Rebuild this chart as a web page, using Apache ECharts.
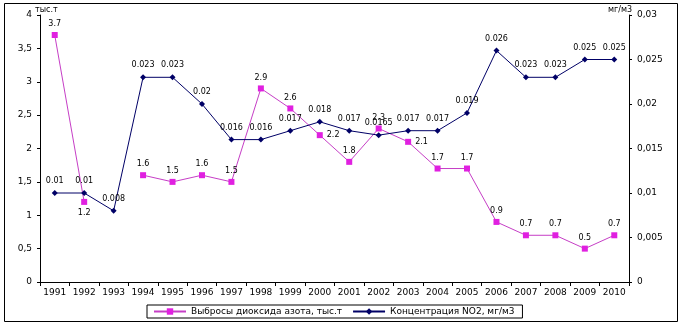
<!DOCTYPE html>
<html><head><meta charset="utf-8">
<script src="https://cdn.jsdelivr.net/npm/echarts@6/dist/echarts.min.js"></script>
<style>html,body{margin:0;padding:0;background:#fff}#c{width:684px;height:326px}</style>
</head><body><div id="c"></div>
<script>
const years = ['1991','1992','1993','1994','1995','1996','1997','1998','1999','2000','2001','2002','2003','2004','2005','2006','2007','2008','2009','2010'];
const emissions = [3.7,1.2,null,1.6,1.5,1.6,1.5,2.9,2.6,2.2,1.8,2.3,2.1,1.7,1.7,0.9,0.7,0.7,0.5,0.7];
const concentration = [0.01,0.01,0.008,0.023,0.023,0.02,0.016,0.016,0.017,0.018,0.017,0.0165,0.017,0.017,0.019,0.026,0.023,0.023,0.025,0.025];
const emissionLabelPos = {1:'bottom', 9:'right', 12:'right'};
const seriesNames = ['Выбросы диоксида азота, тыс.т','Концентрация NO2, мг/м3'];
const leftName = 'тыс.т', rightName = 'мг/м3';

const FONT = 'DejaVu Sans';
const pinkData = emissions.map((v,i)=> emissionLabelPos[i] ? {value:v, label:{position:emissionLabelPos[i]}} : v);
const chart = echarts.init(document.getElementById('c'), null, {renderer:'canvas'});
chart.setOption({
  animation:false,
  backgroundColor:'#fff',
  textStyle:{fontFamily:FONT},
  grid:{left:40, right:55, top:15, bottom:44, containLabel:false},
  graphic:[{type:'rect', shape:{x:4.5,y:3.5,width:673,height:318}, style:{fill:null, stroke:'#000', lineWidth:1}, silent:true, z:-1}],
  legend:{
    left:147, top:305, itemGap:10, itemWidth:32, itemHeight:8,
    borderColor:'#000', borderWidth:1, borderRadius:0, padding:[2,8,2,6],
    textStyle:{fontFamily:FONT, fontSize:9, color:'#000'},
    data: seriesNames
  },
  xAxis:{
    type:'category', data:years, boundaryGap:true,
    axisLine:{lineStyle:{color:'#000', width:1}},
    axisTick:{show:true, interval:0, length:4, lineStyle:{color:'#000'}},
    axisLabel:{interval:0, fontSize:9, color:'#000', fontFamily:FONT, margin:6}
  },
  yAxis:[{
    type:'value', min:0, max:4, interval:0.5,
    name:leftName, nameLocation:'end', nameGap:1, nameMoveOverlap:false,
    nameTextStyle:{fontSize:8, color:'#000', fontFamily:FONT, align:'left', padding:[0,0,0,-5]},
    axisLine:{show:true, lineStyle:{color:'#000'}},
    axisTick:{show:true, length:3, lineStyle:{color:'#000'}},
    splitLine:{show:false},
    axisLabel:{fontSize:9, color:'#000', fontFamily:FONT, margin:8, formatter:v=>String(v).replace('.',',')}
  },{
    type:'value', min:0, max:0.03, interval:0.005, position:'right',
    name:rightName, nameLocation:'end', nameGap:1, nameMoveOverlap:false,
    nameTextStyle:{fontSize:8, color:'#000', fontFamily:FONT, align:'right', padding:[0,-3,0,0]},
    axisLine:{show:true, lineStyle:{color:'#000'}},
    axisTick:{show:true, length:3, lineStyle:{color:'#000'}},
    splitLine:{show:false},
    axisLabel:{fontSize:9, color:'#000', fontFamily:FONT, margin:8, formatter:v=>String(+v.toFixed(3)).replace('.',',')}
  }],
  series:[{
    name:seriesNames[0], type:'line', yAxisIndex:0, data:pinkData,
    connectNulls:false, symbol:'rect', symbolSize:6, showAllSymbol:true,
    lineStyle:{color:'#c63ec6', width:1},
    itemStyle:{color:'#e020e0'},
    label:{show:true, position:'top', distance:4, fontSize:8, color:'#000', fontFamily:FONT}
  },{
    name:seriesNames[1], type:'line', yAxisIndex:1, data:concentration,
    symbol:'diamond', symbolSize:6, showAllSymbol:true,
    lineStyle:{color:'#000066', width:1},
    itemStyle:{color:'#000066'},
    label:{show:true, position:'top', distance:5, fontSize:8, color:'#000', fontFamily:FONT}
  }]
});
</script></body></html>
